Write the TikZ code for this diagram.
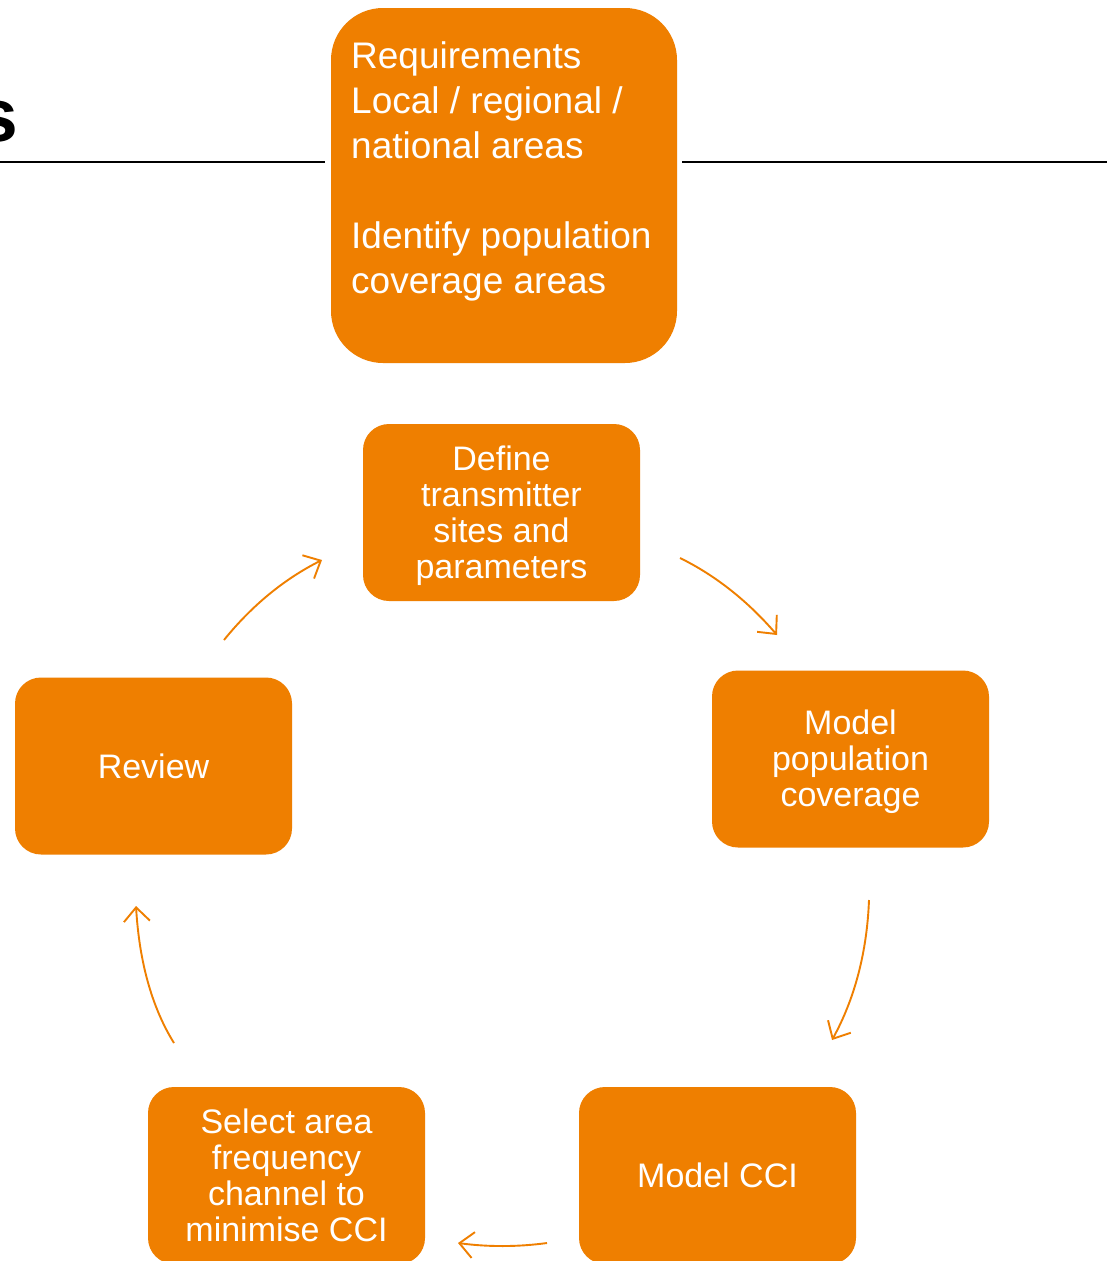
\documentclass[tikz,border=0pt]{standalone}
\usepackage{fontspec}
\setmainfont{Liberation Sans}
\usetikzlibrary{arrows.meta}
\definecolor{procorange}{RGB}{239,127,0}
\begin{document}
\begin{tikzpicture}[x=1pt,y=-1pt,
  stepbox/.style={fill=procorange,draw=none,rounded corners=26,
    minimum width=277,minimum height=177,inner sep=0},
  steptext/.style={text=white,align=center,inner sep=0,
    font=\fontsize{34}{36}\selectfont},
  bigbox/.style={fill=procorange,draw=none,rounded corners=52,
    minimum width=346,minimum height=355,inner sep=0},
  bigtext/.style={text=white,align=left,inner sep=0,anchor=north west,
    font=\fontsize{37}{45}\selectfont},
  flow/.style={draw=procorange,line width=1.9,
    -{Straight Barb[length=14,width=26,line width=1.9]}},
  rule/.style={draw=black,line width=2.2}]
  \clip (0,0) rectangle (1107,1261);
  \fill[white] (0,0) rectangle (1107,1261);

  % title fragment and rules
  \node[anchor=base east,inner sep=0,font=\fontsize{75}{80}\selectfont\bfseries] (title) at (18,141) {s};
  \coordinate (ruleLa) at (0,162);
  \coordinate (ruleLb) at (325,162);
  \coordinate (ruleRa) at (682,162);
  \coordinate (ruleRb) at (1107,162);
  \draw[rule] (ruleLa) -- (ruleLb);
  \draw[rule] (ruleRa) -- (ruleRb);

  % requirements box
  \node[bigbox] (req) at (504,185.5) {};
  \node[bigtext] (reqtext) at (351,41) {Requirements\\Local / regional /\\national areas\\[45]Identify population\\coverage areas};

  % process cycle boxes
  \node[stepbox] (define) at (501.5,512.5) {};
  \node[stepbox] (modelpop) at (850.5,759) {};
  \node[stepbox] (modelcci) at (717.5,1175.5) {};
  \node[stepbox] (select) at (286.5,1175.5) {};
  \node[stepbox] (review) at (153.5,766) {};

  % box captions
  \node[steptext] (definetext) at ([yshift=-3]define.center) {Define\\transmitter\\sites and\\parameters};
  \node[steptext] (modelpoptext) at ([yshift=-3]modelpop.center) {Model\\population\\coverage};
  \node[steptext] (modelccitext) at (modelcci.center) {Model CCI};
  \node[steptext] (selecttext) at (select.center) {Select area\\frequency\\channel to\\minimise CCI};
  \node[steptext] (reviewtext) at (review.center) {Review};

  % cycle arrows
  \coordinate (a1s) at (680,558);
  \coordinate (a1e) at (777,635);
  \coordinate (a2s) at (869,900);
  \coordinate (a2e) at (832,1040);
  \coordinate (a3s) at (547,1243);
  \coordinate (a3e) at (458,1243);
  \coordinate (a4s) at (174,1043);
  \coordinate (a4e) at (136,906);
  \coordinate (a5s) at (224,640);
  \coordinate (a5e) at (322,560);
  \draw[flow] (a1s) .. controls (715.3,575.3) and (747.7,601) .. (a1e);
  \draw[flow] (a2s) .. controls (867,952) and (854.7,998.7) .. (a2e);
  \draw[flow] (a3s) .. controls (517.7,1247) and (488,1247) .. (a3e);
  \draw[flow] (a4s) .. controls (152,1007.7) and (139.3,962) .. (a4e);
  \draw[flow] (a5s) .. controls (252,605.3) and (284.7,578.7) .. (a5e);
\end{tikzpicture}
\end{document}
